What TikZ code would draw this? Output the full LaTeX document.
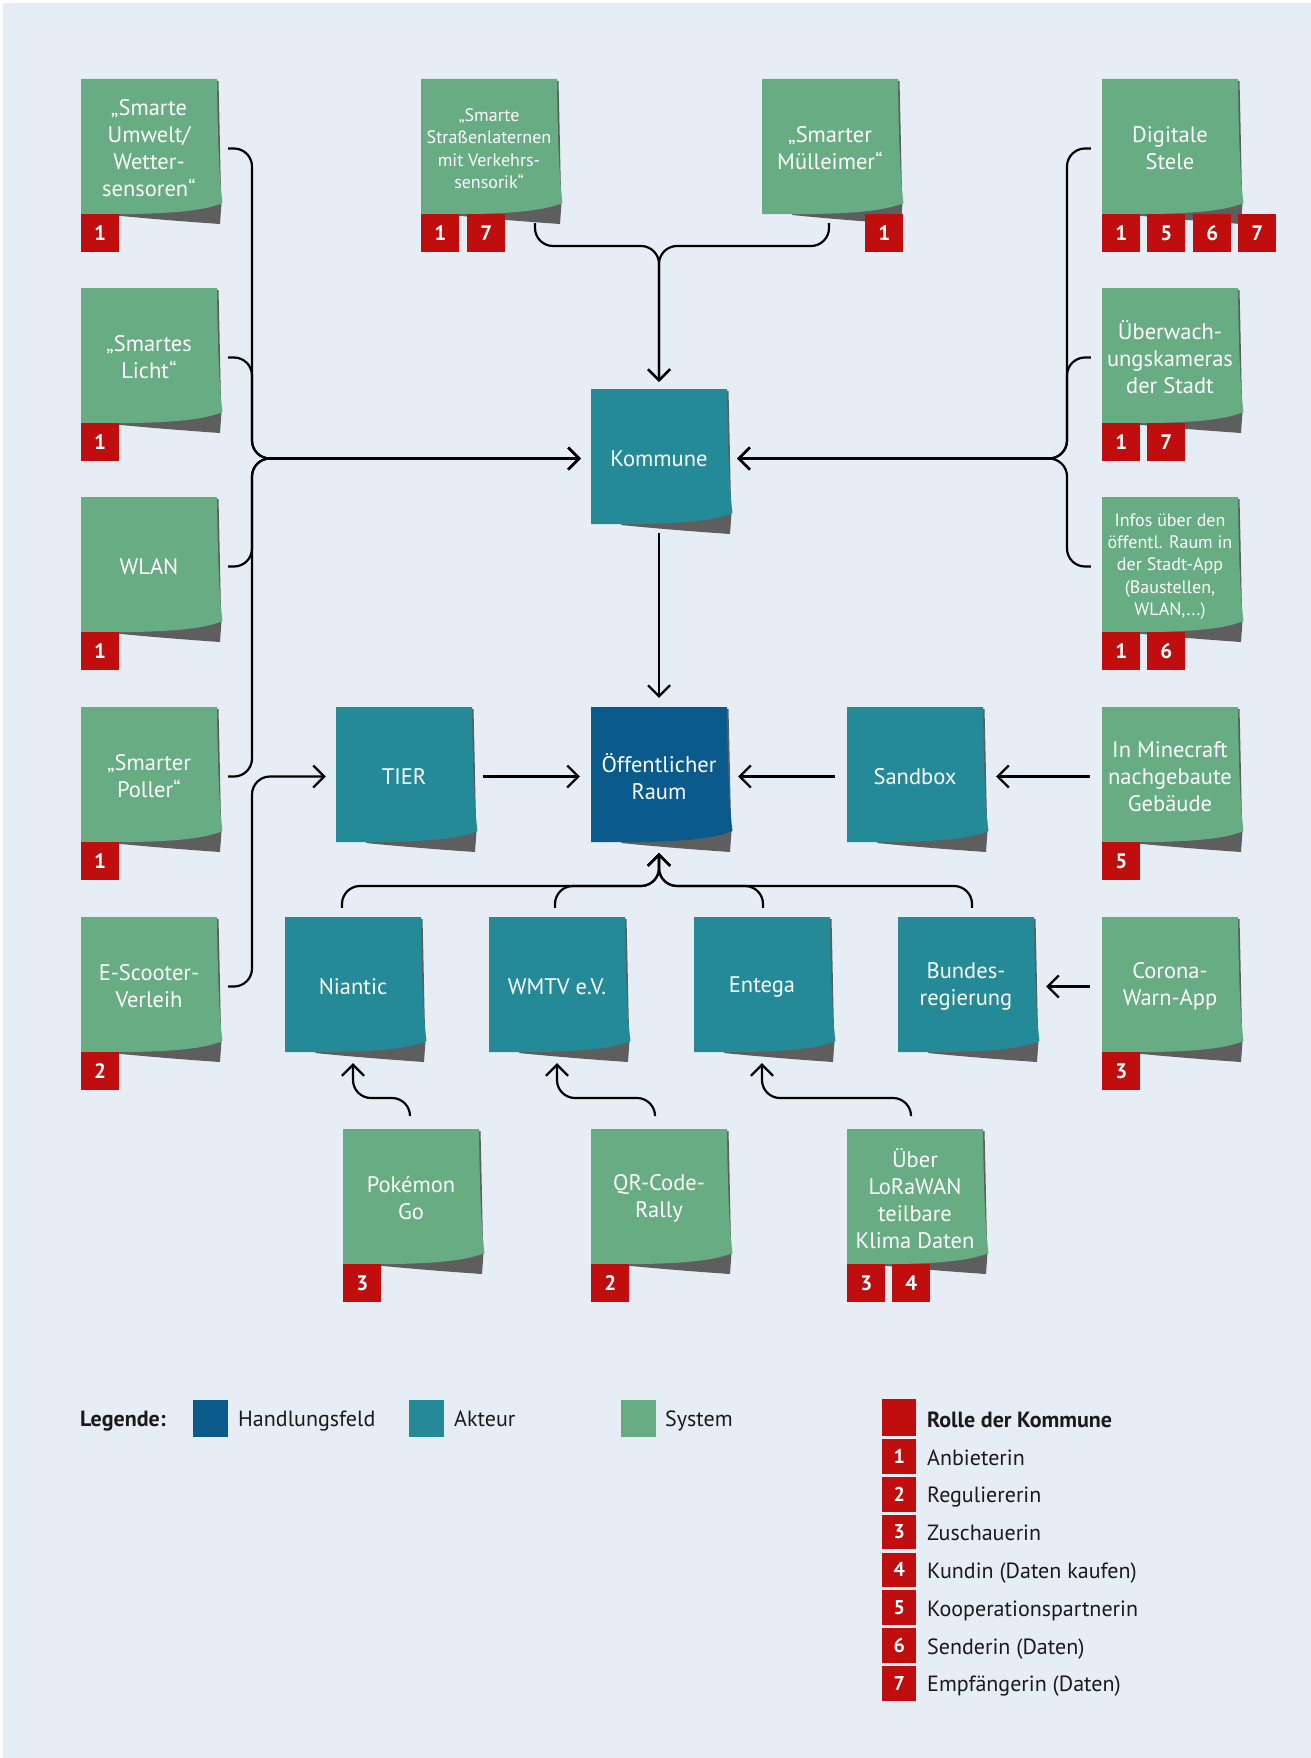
\documentclass[tikz,border=0pt]{standalone}
\usepackage{fontspec}
\setmainfont{PT Sans}
\usetikzlibrary{arrows.meta}
\definecolor{bgc}{HTML}{E6EDF4}
\definecolor{sysgreen}{HTML}{67AC83}
\definecolor{actteal}{HTML}{258A97}
\definecolor{hfblue}{HTML}{0A5A8C}
\definecolor{rolered}{HTML}{C00D0E}
\definecolor{notesh}{HTML}{5E5E5E}
\definecolor{legtxt}{HTML}{1A1A1A}
\tikzset{
  notebox/.style={minimum width=136pt, minimum height=135pt, inner sep=0pt, align=center, text=white, font=\fontsize{22.5}{27}\selectfont},
  smalltext/.style={font=\fontsize{18}{22.4}\selectfont},
  badgebox/.style={fill=rolered, minimum size=38pt, inner sep=0pt, text=white, font=\bfseries\fontsize{21}{24}\selectfont, anchor=north west},
  conn/.style={draw=black, line width=2.2pt, rounded corners=18pt, -{Straight Barb[length=11pt,width=22pt]}},
  legsq/.style={minimum width=35pt, minimum height=37pt, inner sep=0pt, anchor=north west},
  legtext/.style={inner sep=0pt, anchor=base west, text=legtxt, font=\fontsize{22}{26}\selectfont},
  legbold/.style={font=\bfseries\fontsize{22}{26}\selectfont},
  rolesq/.style={fill=rolered, minimum width=34pt, minimum height=34.5pt, inner sep=0pt, anchor=north west, text=white, font=\bfseries\fontsize{20}{24}\selectfont},
}
\newcommand\stickynote[6]{%
  \begin{scope}[shift={(#2,#3)}]
    \fill[notesh] (134,2) -- (137.5,2) .. controls (139,60) and (139.5,105) .. (140.5,124) -- (139,145) .. controls (110,143) and (70,140) .. (30,136) -- cycle;
    \fill[#4] (0,0) -- (136,0) .. controls (136.5,50) and (138,100) .. (141.5,124) .. controls (120,133) and (80,136) .. (0,135) -- cycle;
    \node[notebox,#5] (#1) at (68,69.5) {#6};
  \end{scope}}
\newcommand\rbadge[4]{\node[badgebox] (#1) at (#2,#3) {#4};}
\begin{document}
\begin{tikzpicture}[x=1pt,y=-1pt]
\useasboundingbox (0,0) rectangle (1311,1758);
\fill[white] (0,0) rectangle (1311,1758);
\fill[bgc] (3,3) rectangle (1311,1758);

% ---- left column (systems)
\stickynote{Umwelt}{81}{79}{sysgreen}{}{„Smarte\\Umwelt/\\Wetter-\\sensoren“}
\rbadge{bUmwelt}{81}{214}{1}
\stickynote{Licht}{81}{288}{sysgreen}{}{„Smartes\\Licht“}
\rbadge{bLicht}{81}{423}{1}
\stickynote{WLAN}{81}{497}{sysgreen}{}{WLAN}
\rbadge{bWLAN}{81}{632}{1}
\stickynote{Poller}{81}{707}{sysgreen}{}{„Smarter\\Poller“}
\rbadge{bPoller}{81}{842}{1}
\stickynote{EScooter}{81}{917}{sysgreen}{}{E-Scooter-\\Verleih}
\rbadge{bEScooter}{81}{1052}{2}

% ---- top middle
\stickynote{Strassen}{421}{79}{sysgreen}{smalltext}{„Smarte\\Straßenlaternen\\mit Verkehrs-\\sensorik“}
\rbadge{bStrassenA}{421}{214}{1}
\rbadge{bStrassenB}{467}{214}{7}
\stickynote{Muell}{762}{79}{sysgreen}{}{„Smarter\\Mülleimer“}
\rbadge{bMuell}{865}{214}{1}

% ---- right column
\stickynote{Stele}{1102}{79}{sysgreen}{}{Digitale\\Stele}
\rbadge{bSteleA}{1102}{214}{1}
\rbadge{bSteleB}{1147}{214}{5}
\rbadge{bSteleC}{1193}{214}{6}
\rbadge{bSteleD}{1238}{214}{7}
\stickynote{Kamera}{1102}{288}{sysgreen}{}{Überwach-\\ungskameras\\der Stadt}
\rbadge{bKameraA}{1102}{423}{1}
\rbadge{bKameraB}{1147}{423}{7}
\stickynote{Infos}{1102}{497}{sysgreen}{smalltext}{Infos über den\\öffentl. Raum in\\der Stadt-App\\(Baustellen,\\WLAN,...)}
\rbadge{bInfosA}{1102}{632}{1}
\rbadge{bInfosB}{1147}{632}{6}
\stickynote{Minecraft}{1102}{707}{sysgreen}{}{In Minecraft\\nachgebaute\\Gebäude}
\rbadge{bMinecraft}{1102}{842}{5}
\stickynote{Corona}{1102}{917}{sysgreen}{}{Corona-\\Warn-App}
\rbadge{bCorona}{1102}{1052}{3}

% ---- actors and field
\stickynote{Kommune}{591}{389}{actteal}{}{Kommune}
\stickynote{TIER}{336}{707}{actteal}{}{TIER}
\stickynote{Raum}{591}{707}{hfblue}{}{Öffentlicher\\Raum}
\stickynote{Sandbox}{847}{707}{actteal}{}{Sandbox}
\stickynote{Niantic}{285}{917}{actteal}{}{Niantic}
\stickynote{WMTV}{489}{917}{actteal}{}{WMTV e.V.}
\stickynote{Entega}{694}{917}{actteal}{}{Entega}
\stickynote{Bundes}{898}{917}{actteal}{}{Bundes-\\regierung}

% ---- bottom systems
\stickynote{Pokemon}{343}{1129}{sysgreen}{}{Pokémon\\Go}
\rbadge{bPokemon}{343}{1264}{3}
\stickynote{QR}{591}{1129}{sysgreen}{}{QR-Code-\\Rally}
\rbadge{bQR}{591}{1264}{2}
\stickynote{Ueber}{847}{1129}{sysgreen}{}{Über\\LoRaWAN\\teilbare\\Klima Daten}
\rbadge{bUeberA}{847}{1264}{3}
\rbadge{bUeberB}{892}{1264}{4}

% ---- bus coordinates
\coordinate (lbus) at (252,0);
\coordinate (rbus) at (1067,0);
\coordinate (tbus) at (0,246);
\coordinate (bbus) at (0,886);
\coordinate (kbus) at (0,1098);

% ---- connectors
\draw[conn] ([xshift=11pt]Umwelt.east) -| (lbus |- Kommune.west) -- ([xshift=-10pt]Kommune.west);
\draw[conn] ([xshift=11pt]Licht.east) -| (lbus |- Kommune.west) -- ([xshift=-10pt]Kommune.west);
\draw[conn] ([xshift=11pt]WLAN.east) -| (lbus |- Kommune.west) -- ([xshift=-10pt]Kommune.west);
\draw[conn] ([xshift=11pt]Poller.east) -| (lbus |- Kommune.west) -- ([xshift=-10pt]Kommune.west);

\draw[conn] ([xshift=-11pt]Stele.west) -| (rbus |- Kommune.east) -- ([xshift=10pt]Kommune.east);
\draw[conn] ([xshift=-11pt]Kamera.west) -| (rbus |- Kommune.east) -- ([xshift=10pt]Kommune.east);
\draw[conn] ([xshift=-11pt]Infos.west) -| (rbus |- Kommune.east) -- ([xshift=10pt]Kommune.east);

\draw[conn] ([shift={(46,7)}]Strassen.south) |- (Kommune.north |- tbus) -- ([shift={(0,-9)}]Kommune.north);
\draw[conn] ([shift={(-1,7)}]Muell.south) |- (Kommune.north |- tbus) -- ([shift={(0,-9)}]Kommune.north);

\draw[conn] ([shift={(0,7)}]Kommune.south) -- ([shift={(0,-11)}]Raum.north);
\draw[conn] ([xshift=11pt]TIER.east) -- ([xshift=-11pt]Raum.west);
\draw[conn] ([xshift=11pt]EScooter.east) -| (lbus |- TIER.west) -- ([xshift=-10pt]TIER.west);
\draw[conn] ([xshift=-12pt]Sandbox.west) -- ([xshift=11pt]Raum.east);
\draw[conn] ([xshift=-12pt]Minecraft.west) -- ([xshift=13pt]Sandbox.east);

\draw[conn] ([shift={(-11,-11)}]Niantic.north) |- (Raum.south |- bbus) -- ([shift={(0,9)}]Raum.south);
\draw[conn] ([shift={(-2,-11)}]WMTV.north) |- (Raum.south |- bbus) -- ([shift={(0,9)}]Raum.south);
\draw[conn] ([shift={(1,-11)}]Entega.north) |- (Raum.south |- bbus) -- ([shift={(0,9)}]Raum.south);
\draw[conn] ([shift={(6,-11)}]Bundes.north) |- (Raum.south |- bbus) -- ([shift={(0,9)}]Raum.south);

\draw[conn] ([xshift=-12pt]Corona.west) -- ([xshift=12pt]Bundes.east);

\draw[conn] ([shift={(-1,-15)}]Pokemon.north) |- (Niantic.south |- kbus) -- ([shift={(0,9)}]Niantic.south);
\draw[conn] ([shift={(-4,-15)}]QR.north) |- (WMTV.south |- kbus) -- ([shift={(0,9)}]WMTV.south);
\draw[conn] ([shift={(-4,-15)}]Ueber.north) |- (Entega.south |- kbus) -- ([shift={(0,9)}]Entega.south);

% ---- legend
\node[legtext, legbold] (legTitle) at (80,1426) {Legende:};
\node[legsq, fill=hfblue] (legHF) at (193,1400) {};
\node[legtext] (legHFt) at (238,1426) {Handlungsfeld};
\node[legsq, fill=actteal] (legAK) at (409,1400) {};
\node[legtext] (legAKt) at (454,1426) {Akteur};
\node[legsq, fill=sysgreen] (legSY) at (621,1400) {};
\node[legtext] (legSYt) at (665,1426) {System};

\node[rolesq, minimum height=37pt] (roleH) at (882,1399) {};
\node[legtext, legbold] (roleHt) at (927,1427) {Rolle der Kommune};
\foreach \i/\t in {1/Anbieterin, 2/Reguliererin, 3/Zuschauerin, 4/Kundin (Daten kaufen), 5/Kooperationspartnerin, 6/Senderin (Daten), 7/Empfängerin (Daten)}{
  \node[rolesq] (role\i) at (882,{1439+(\i-1)*37.8}) {\i};
  \node[legtext] (role\i t) at (927,{1465+(\i-1)*37.8}) {\t};
}
\end{tikzpicture}
\end{document}
